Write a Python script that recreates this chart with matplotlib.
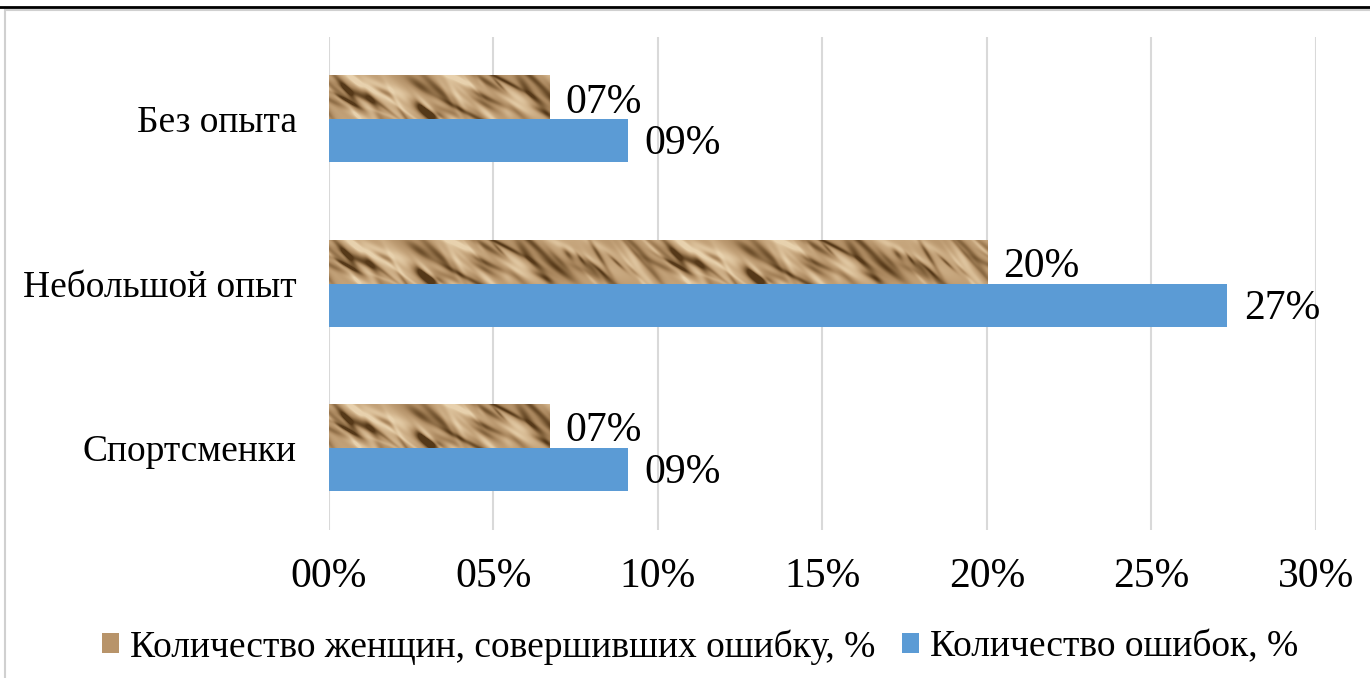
import numpy as np
import matplotlib
matplotlib.use('Agg')
import matplotlib.pyplot as plt
from matplotlib.patches import Patch, Rectangle
from matplotlib.colors import LinearSegmentedColormap

plt.rcParams['font.family'] = ['Liberation Serif', 'DejaVu Serif']

categories = ['Спортсменки', 'Небольшой опыт', 'Без опыта']
women_pct = [6.7, 20.0, 6.7]     # Количество женщин, совершивших ошибку, %
errors_pct = [9.1, 27.3, 9.1]    # Количество ошибок, %
series_names = ['Количество женщин, совершивших ошибку, %', 'Количество ошибок, %']
xticks = [0, 5, 10, 15, 20, 25, 30]

blue = '#5B9BD5'
paper = LinearSegmentedColormap.from_list(
    'paper', ['#553818', '#80603a', '#a8855c', '#c3a279', '#d8bc95', '#e8d2ae'])


def frac_hash(k):
    return (np.sin(k * 12.9898) * 43758.5453) % 1.0


def paper_tile(w=330, h=44, n=90):
    # crumpled paper: short diagonal folds, dark and light, on a tan base
    yy, xx = np.mgrid[0:h, 0:w].astype(float)
    shade = np.full((h, w), 0.58)
    shade += 0.06 * np.sin(2 * np.pi * xx / w * 3 + 0.8) * np.cos(yy / 9.0)
    k = np.arange(1, n + 1, dtype=float)
    cx = frac_hash(k) * w
    cy = frac_hash(k + 311) * h
    length = 8 + 26 * frac_hash(k + 523)
    width = 1.5 + 3.0 * frac_hash(k + 719)
    ang = np.deg2rad(20 + 40 * frac_hash(k + 907))
    amp = np.where(frac_hash(k + 1103) < 0.55, -0.85, 0.55) * (0.25 + 0.35 * frac_hash(k + 1301))
    for j in range(n):
        dx = (xx - cx[j] + w / 2) % w - w / 2
        dy = yy - cy[j]
        u = dx * np.cos(ang[j]) + dy * np.sin(ang[j])
        v = -dx * np.sin(ang[j]) + dy * np.cos(ang[j])
        shade += amp[j] * np.exp(-(u / length[j]) ** 2 - (v / width[j]) ** 2)
    return np.clip(shade, 0, 1)


fig = plt.figure(figsize=(13.7, 6.78), dpi=100)
ax = fig.add_axes([0.240, 0.2183, 0.7206, 0.7271])

pos = np.arange(len(categories))
bh = 0.262
tile = paper_tile()
tex = np.tile(tile, (1, 4))   # one tile spans 10 % on the axis

for i, (w, e) in enumerate(zip(women_pct, errors_pct)):
    y_w = pos[i] + bh / 2
    y_e = pos[i] - bh / 2
    # textured bar: image cropped to the bar length
    ncols = int(round(w / 10 * tile.shape[1]))
    ax.imshow(tex[:, :ncols], cmap=paper, vmin=0, vmax=1, aspect='auto',
              interpolation='bilinear',
              extent=(0, w, y_w - bh / 2, y_w + bh / 2), zorder=2)
    ax.barh(y_e, e, height=bh, color=blue, zorder=2)
    ax.text(w + 0.5, y_w - 0.03, f'{w:02.0f}%', va='center', ha='left', fontsize=30)
    ax.text(e + 0.5, y_e - 0.02, f'{e:02.0f}%', va='center', ha='left', fontsize=30)

ax.set_xlim(0, 30)
ax.set_ylim(-0.5, 2.5)
ax.set_xticks(xticks)
ax.set_xticklabels([f'{t:02d}%' for t in xticks], fontsize=30)
ax.set_yticks(pos)
ax.set_yticklabels(categories, fontsize=27)
ax.tick_params(length=0)
ax.tick_params(axis='x', pad=20)
ax.tick_params(axis='y', pad=23)
ax.grid(axis='x', color='#d9d9d9', linewidth=1.5, zorder=0)
ax.set_axisbelow(True)
for s in ax.spines.values():
    s.set_visible(False)

handles = [Patch(facecolor='#b8946a'), Patch(facecolor=blue)]
fig.legend(handles, series_names, loc='center', bbox_to_anchor=(0.511, 0.046),
           ncol=2, frameon=False, fontsize=27, handlelength=0.45, handleheight=0.45,
           handletextpad=0.3, columnspacing=0.7)

# chart frame and rule above it
fig.add_artist(Rectangle((5 / 1370, -0.05), 1.1, 1 - 10 / 678 + 0.05,
                         transform=fig.transFigure, fill=False,
                         edgecolor='#d0d0d0', linewidth=1.5))
fig.add_artist(plt.Line2D([0, 1], [1 - 7 / 678] * 2, transform=fig.transFigure,
                          color='black', linewidth=2))

fig.savefig('out.png', dpi=100)
